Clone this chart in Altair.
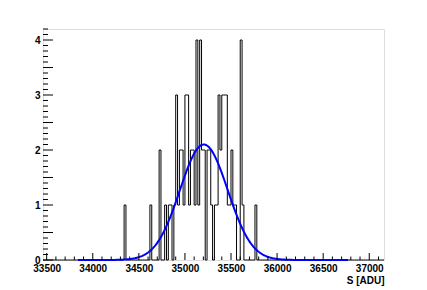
import altair as alt
import numpy as np
import pandas as pd

# Histogram: bin width 20 ADU, range 33460 .. 37160
x_min = 33460
x_max = 37160
bin_width = 20

# left edges (ADU) of non-empty bins and their counts
bin_left = [34340, 34620, 34720, 34780, 34820, 34840, 34880, 34900, 34920, 34940,
            34960, 34980, 35000, 35020, 35040, 35060, 35080, 35100, 35120, 35140,
            35160, 35180, 35200, 35240, 35260, 35280, 35320, 35340, 35360, 35380,
            35400, 35420, 35440, 35460, 35480, 35500, 35520, 35540, 35600, 35620,
            35760]
counts = [1, 1, 2, 1, 1, 1, 1, 3, 1, 2,
          2, 1, 3, 3, 1, 2, 2, 1, 4, 1,
          4, 2, 2, 2, 2, 1, 1, 1, 3, 2,
          3, 3, 3, 1, 1, 2, 1, 1, 4, 1,
          1]

# Gaussian fit parameters
fit_amp = 2.1
fit_mean = 35205
fit_sigma = 259
fit_lo = 33840
fit_hi = 36770

x_ticks = [33500, 34000, 34500, 35000, 35500, 36000, 36500, 37000]
y_ticks = [0, 0.5, 1, 1.5, 2, 2.5, 3, 3.5, 4]
y_max = 4.2

# ---- build tables ----
n_bins = (x_max - x_min) // bin_width
edges = x_min + bin_width * np.arange(n_bins + 1)
full = np.zeros(n_bins + 1)
lookup = dict(zip(bin_left, counts))
for i, e in enumerate(edges[:-1]):
    full[i] = lookup.get(int(e), 0)
hist_df = pd.DataFrame({"x": edges, "y": full})

xs = np.linspace(fit_lo, fit_hi, 400)
fit_df = pd.DataFrame({"x": xs, "y": fit_amp * np.exp(-0.5 * ((xs - fit_mean) / fit_sigma) ** 2)})

x_major = pd.DataFrame({"v": x_ticks})
x_minor = pd.DataFrame({"v": [v for v in range(33500, 37160, 100) if v % 500 != 0]})
y_major = pd.DataFrame({"v": y_ticks})
y_minor = pd.DataFrame({"v": [round(v * 0.1, 1) for v in range(0, 43) if v % 5 != 0]})

W, H = 341, 231
xscale = alt.Scale(domain=[x_min, x_max], nice=False, zero=False)
yscale = alt.Scale(domain=[0, y_max], nice=False, zero=True)
FONT = "Liberation Sans"

hist = alt.Chart(hist_df).mark_line(interpolate="step-after", color="black", strokeWidth=1).encode(
    x=alt.X("x:Q", scale=xscale,
            axis=alt.Axis(values=x_ticks, format="d", ticks=False, domain=False, grid=False,
                          labelFont=FONT, labelFontSize=10, labelFontWeight="bold",
                          labelColor="black", labelPadding=3,
                          title="S [ADU]", titleFont=FONT, titleFontSize=10, titleFontWeight="bold",
                          titleColor="black", titleAnchor="end", titleAlign="right", titlePadding=2,
                          labelFlush=False)),
    y=alt.Y("y:Q", scale=yscale,
            axis=alt.Axis(values=y_ticks, format="~g", ticks=False, domain=False, grid=False,
                          labelFont=FONT, labelFontSize=10, labelFontWeight="bold",
                          labelColor="black", labelPadding=3,
                          title=None, labelFlush=False)),
)

fit = alt.Chart(fit_df).mark_line(color="#0000ff", strokeWidth=2).encode(
    x=alt.X("x:Q", scale=xscale), y=alt.Y("y:Q", scale=yscale))

xmaj = alt.Chart(x_major).mark_rule(color="black", strokeWidth=1).encode(
    x=alt.X("v:Q", scale=xscale), y=alt.value(H), y2=alt.value(H - 7))
xmin_t = alt.Chart(x_minor).mark_rule(color="black", strokeWidth=1).encode(
    x=alt.X("v:Q", scale=xscale), y=alt.value(H), y2=alt.value(H - 3.5))
ymaj = alt.Chart(y_major).mark_rule(color="black", strokeWidth=1).encode(
    y=alt.Y("v:Q", scale=yscale), x=alt.value(0), x2=alt.value(10))
ymin_t = alt.Chart(y_minor).mark_rule(color="black", strokeWidth=1).encode(
    y=alt.Y("v:Q", scale=yscale), x=alt.value(0), x2=alt.value(5))

chart = alt.layer(hist, fit, xmaj, xmin_t, ymaj, ymin_t).properties(
    width=W, height=H,
    padding={"left": 35, "top": 21, "right": 35, "bottom": 28},
    autosize=alt.AutoSizeParams(type="none"),
).configure_view(stroke="black", strokeWidth=1).configure(background="white")

chart.save("out.html", embed_options={"renderer": "svg", "actions": False})
